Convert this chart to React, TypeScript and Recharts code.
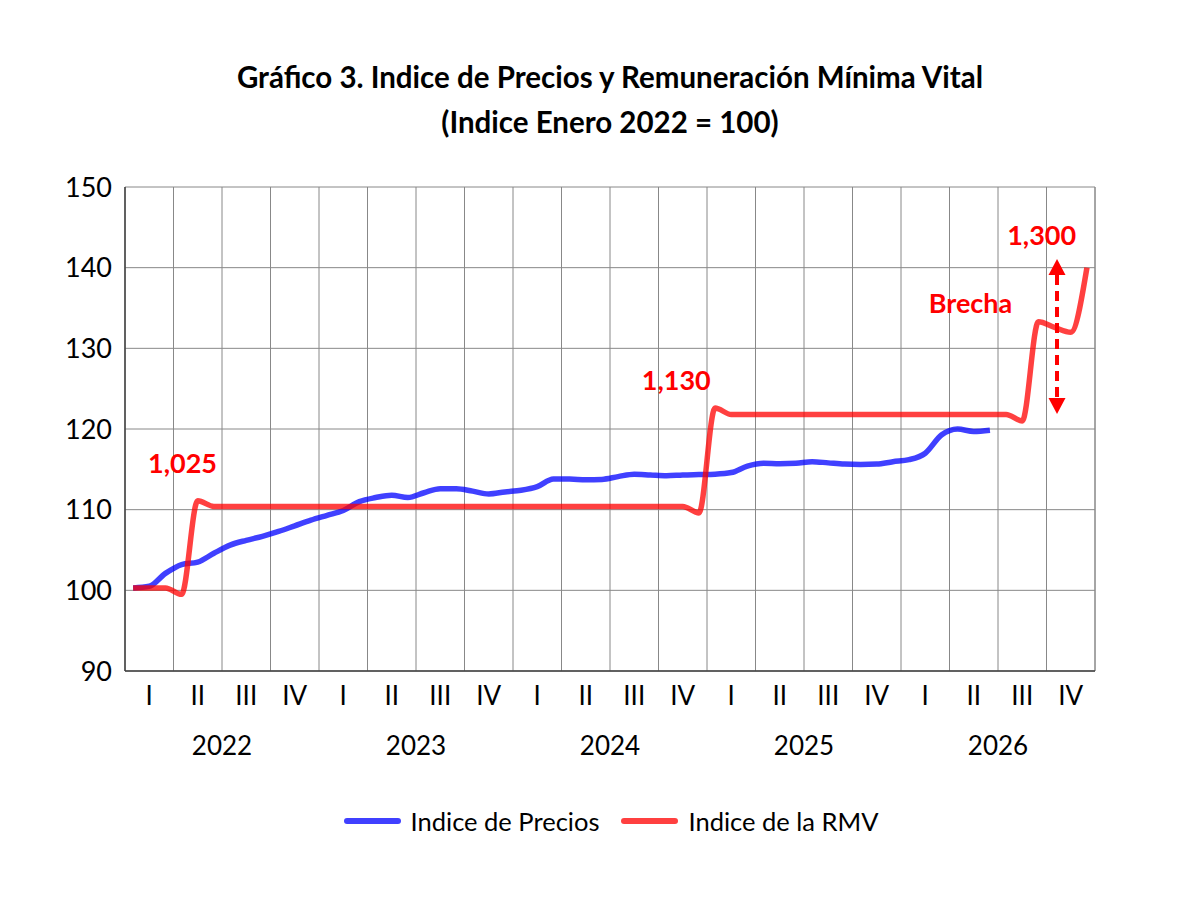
import { LineChart, Line, XAxis, YAxis, CartesianGrid, Legend, ReferenceDot, ReferenceLine } from 'recharts';

const FONT = 'Lato, "Open Sans", sans-serif';
const AZUL = '#0000ff';
const ROJO = '#ff0000';

const trimestres = ['I', 'II', 'III', 'IV'];
const anios = ['2022', '2023', '2024', '2025', '2026'];
const ticksY = [90, 100, 110, 120, 130, 140, 150];

// Indice de precios (ene-2022 = 100), mensual hasta jun-2026
const indicePrecios = [
  100.3, 100.5, 102.1, 103.2, 103.5, 104.6, 105.6, 106.2, 106.7, 107.3, 108.0, 108.7,
  109.3, 109.9, 111.0, 111.5, 111.8, 111.5, 112.1, 112.6, 112.6, 112.3, 111.95, 112.2,
  112.4, 112.85, 113.8, 113.8, 113.7, 113.75, 114.1, 114.4, 114.3, 114.2, 114.3, 114.35,
  114.4, 114.6, 115.4, 115.75, 115.7, 115.75, 115.95, 115.8, 115.65, 115.6, 115.65, 115.95,
  116.2, 117.0, 119.25, 120.0, 119.7, 119.85,
];

// Indice de la RMV (ene-2022 = 100), mensual hasta dic-2026
const indiceRmv = [
  100.3, 100.3, 100.3, 99.5, 111.1, 110.4, 110.4, 110.4, 110.4, 110.4, 110.4, 110.4,
  110.4, 110.4, 110.4, 110.4, 110.4, 110.4, 110.4, 110.4, 110.4, 110.4, 110.4, 110.4,
  110.4, 110.4, 110.4, 110.4, 110.4, 110.4, 110.4, 110.4, 110.4, 110.4, 110.4, 109.6,
  122.6, 121.8, 121.8, 121.8, 121.8, 121.8, 121.8, 121.8, 121.8, 121.8, 121.8, 121.8,
  121.8, 121.8, 121.8, 121.8, 121.8, 121.8, 121.8, 121.0, 133.3, 132.6, 132.0, 140.0,
];

const series = [
  { key: 'precios', name: 'Indice de Precios', color: AZUL },
  { key: 'rmv', name: 'Indice de la RMV', color: ROJO },
];

const notas = [
  { texto: '1,025', x: 3.56, y: 114.55 },
  { texto: '1,130', x: 34.1, y: 124.85 },
  { texto: '1,300', x: 56.7, y: 142.8 },
  { texto: 'Brecha', x: 52.3, y: 134.4 },
];

const brecha = { x: 57.65, desde: 121.86, hasta: 141.07 };

const data = indiceRmv.map((rmv, i) => ({
  mes: i + 0.5,
  precios: i < indicePrecios.length ? indicePrecios[i] : null,
  rmv,
}));

const limitesTrimestre = Array.from({ length: 21 }, (_, i) => i * 3);
const centrosTrimestre = Array.from({ length: 20 }, (_, i) => i * 3 + 1.5);
const centrosAnio = anios.map((_, i) => i * 12 + 6);

const FlechaBrecha = (props: any) => {
  const { x1, y1, y2 } = props;
  const top = Math.min(y1, y2);
  const bottom = Math.max(y1, y2);
  const head = 16;
  const half = 8.5;
  return (
    <g>
      <line x1={x1} y1={top + head} x2={x1} y2={bottom - head} stroke={ROJO} strokeWidth={4} strokeDasharray="10 6" />
      <polygon points={`${x1},${top} ${x1 - half},${top + head} ${x1 + half},${top + head}`} fill={ROJO} />
      <polygon points={`${x1},${bottom} ${x1 - half},${bottom - head} ${x1 + half},${bottom - head}`} fill={ROJO} />
    </g>
  );
};

const renderLegend = () => (
  <div style={{ display: 'flex', justifyContent: 'center', alignItems: 'center', fontFamily: FONT, fontSize: 25.5, color: '#000', paddingLeft: 22 }}>
    {series.map((s) => (
      <div key={s.key} style={{ display: 'flex', alignItems: 'center', margin: '0 11px' }}>
        <span style={{ display: 'inline-block', width: 57, height: 6, borderRadius: 3, background: s.color, opacity: 0.75, marginRight: 10 }} />
        <span>{s.name}</span>
      </div>
    ))}
  </div>
);

export default function App() {
  return (
    <div style={{ position: 'absolute', left: 0, top: 0, width: 1200, height: 908, background: '#fff' }}>
      <div style={{ position: 'absolute', left: 0, top: 54, width: 1220, textAlign: 'center', fontFamily: FONT, fontWeight: 700, fontSize: 29.5, lineHeight: '45px', color: '#000' }}>
        Gráfico 3. Indice de Precios y Remuneración Mínima Vital
        <br />
        (Indice Enero 2022 = 100)
      </div>
      <LineChart width={1200} height={908} data={data} margin={{ top: 187, right: 105, left: 0, bottom: 136 }}>
        <CartesianGrid stroke="#888" />
        <XAxis
          dataKey="mes"
          type="number"
          domain={[0, 60]}
          allowDataOverflow
          ticks={limitesTrimestre}
          interval={0}
          tick={() => <g />}
          tickLine={false}
          height={1}
          axisLine={{ stroke: '#404040', strokeWidth: 1.5 }}
        />
        <XAxis
          xAxisId={1}
          dataKey="mes"
          type="number"
          domain={[0, 60]}
          allowDataOverflow
          ticks={centrosTrimestre}
          tickFormatter={(v: number) => trimestres[Math.floor(v / 3) % 4]}
          axisLine={false}
          tickLine={false}
          tickMargin={9}
          height={50}
          interval={0}
          tick={{ fill: '#000', fontSize: 26, fontFamily: FONT }}
        />
        <XAxis
          xAxisId={2}
          dataKey="mes"
          type="number"
          domain={[0, 60]}
          allowDataOverflow
          ticks={centrosAnio}
          tickFormatter={(v: number) => anios[Math.floor(v / 12)]}
          axisLine={false}
          tickLine={false}
          tickMargin={9}
          height={50}
          interval={0}
          tick={{ fill: '#000', fontSize: 26, fontFamily: FONT }}
        />
        <YAxis
          type="number"
          domain={[90, 150]}
          ticks={ticksY}
          interval={0}
          width={125}
          tickLine={false}
          tickMargin={7}
          axisLine={{ stroke: '#404040', strokeWidth: 1.5 }}
          tick={{ fill: '#000', fontSize: 27, fontFamily: FONT }}
        />
        <ReferenceLine x={60} stroke="#888" ifOverflow="extendDomain" />
        <Legend
          layout="horizontal"
          verticalAlign="middle"
          align="center"
          content={renderLegend}
          wrapperStyle={{ top: 806, left: 0, width: 1200 }}
        />
        {series.map((s) => (
          <Line
            key={s.key}
            dataKey={s.key}
            name={s.name}
            type="monotone"
            stroke={s.color}
            strokeOpacity={0.75}
            strokeWidth={5.5}
            dot={false}
            activeDot={false}
            isAnimationActive={false}
          />
        ))}
        <ReferenceLine
          segment={[{ x: brecha.x, y: brecha.desde }, { x: brecha.x, y: brecha.hasta }]}
          shape={FlechaBrecha}
        />
        {notas.map((n) => (
          <ReferenceDot
            key={n.texto}
            x={n.x}
            y={n.y}
            r={0}
            shape={(p: any) => (
              <text x={p.cx} y={p.cy} textAnchor="middle" fill={ROJO} fontFamily={FONT} fontWeight={700} fontSize={27}>
                {n.texto}
              </text>
            )}
          />
        ))}
      </LineChart>
    </div>
  );
}
